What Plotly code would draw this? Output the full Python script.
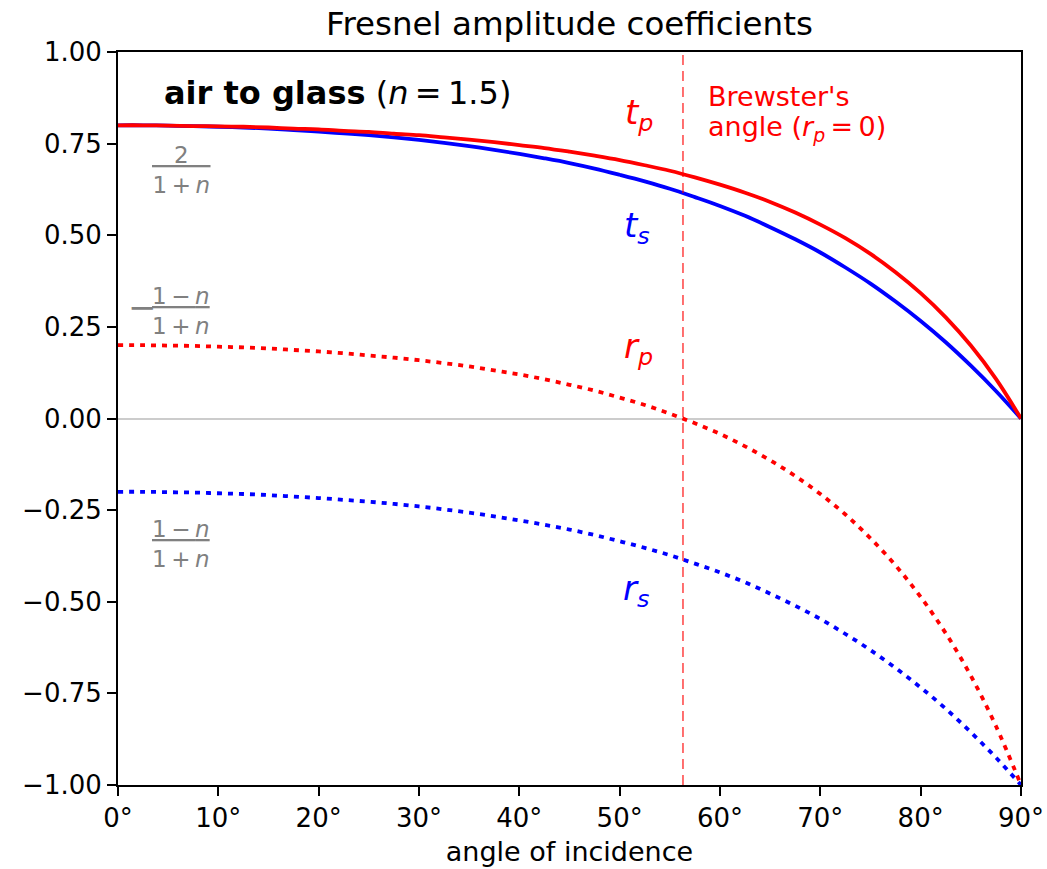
import plotly.graph_objects as go

# Data (every 2.5 degrees)
angles = [0, 2.5, 5, 7.5, 10, 12.5, 15, 17.5, 20, 22.5, 25, 27.5, 30, 32.5, 35, 37.5, 40, 42.5, 45,
          47.5, 50, 52.5, 55, 57.5, 60, 62.5, 65, 67.5, 70, 72.5, 75, 77.5, 80, 82.5, 85, 87.5, 90]
t_p = [0.800, 0.800, 0.799, 0.798, 0.797, 0.796, 0.794, 0.791, 0.789, 0.785, 0.782, 0.777, 0.773, 0.767, 0.761, 0.754,
       0.746, 0.738, 0.728, 0.717, 0.705, 0.691, 0.676, 0.658, 0.638, 0.616, 0.591, 0.562,
       0.529, 0.492, 0.449, 0.399, 0.342, 0.276, 0.199, 0.108, 0.0]
t_s = [0.800, 0.800, 0.799, 0.798, 0.796, 0.794, 0.791, 0.787, 0.783, 0.778, 0.773, 0.767, 0.760, 0.752, 0.743, 0.733,
       0.722, 0.710, 0.697, 0.682, 0.665, 0.647, 0.627, 0.604, 0.580, 0.553, 0.522, 0.489,
       0.453, 0.412, 0.368, 0.319, 0.266, 0.208, 0.144, 0.075, 0.0]
r_p = [0.200, 0.200, 0.199, 0.198, 0.196, 0.194, 0.191, 0.187, 0.183, 0.178, 0.172, 0.166, 0.159, 0.151, 0.142, 0.131,
       0.120, 0.107, 0.092, 0.076, 0.057, 0.037, 0.013, -0.013, -0.042, -0.076, -0.114, -0.157,
       -0.206, -0.262, -0.327, -0.401, -0.487, -0.586, -0.702, -0.839, -1.0]
r_s = [-0.200, -0.200, -0.201, -0.202, -0.204, -0.206, -0.209, -0.213, -0.217, -0.222, -0.227, -0.233, -0.240, -0.248, -0.257, -0.267,
       -0.278, -0.290, -0.303, -0.318, -0.335, -0.353, -0.373, -0.396, -0.420, -0.447, -0.478, -0.511,
       -0.547, -0.588, -0.632, -0.681, -0.734, -0.792, -0.856, -0.925, -1.0]
brewster_angle = 56.31
x_ticks = [0, 10, 20, 30, 40, 50, 60, 70, 80, 90]
y_ticks = [-1.0, -0.75, -0.5, -0.25, 0.0, 0.25, 0.5, 0.75, 1.0]

FONT = "DejaVu Sans"
RED = "#ff0000"
BLUE = "#0000ff"
GRAY = "#808080"

fig = go.Figure()
line_kw = dict(width=3.8, shape="spline", smoothing=1.0)
fig.add_trace(go.Scatter(x=angles, y=t_s, mode="lines", line=dict(color=BLUE, **line_kw), hoverinfo="skip"))
fig.add_trace(go.Scatter(x=angles, y=t_p, mode="lines", line=dict(color=RED, **line_kw), hoverinfo="skip"))
fig.add_trace(go.Scatter(x=angles, y=r_s, mode="lines", line=dict(color=BLUE, dash="5px,6px", **line_kw), hoverinfo="skip"))
fig.add_trace(go.Scatter(x=angles, y=r_p, mode="lines", line=dict(color=RED, dash="5px,6px", **line_kw), hoverinfo="skip"))

fig.add_shape(type="line", xref="x", yref="paper", x0=brewster_angle, x1=brewster_angle, y0=0, y1=1,
              line=dict(color="rgba(255,0,0,0.7)", width=1.6, dash="10px,6px"), layer="above")

ann = []
def A(x, y, text, size, color="black", xanchor="center", yanchor="middle", align="center"):
    ann.append(dict(x=x, y=y, xref="x", yref="y", text=text, showarrow=False,
                    font=dict(family=FONT, size=size, color=color),
                    xanchor=xanchor, yanchor=yanchor, align=align))

A(4.4, 0.888, "<b>air to glass</b> (<i>n</i>\u2009=\u20091.5)", 32, xanchor="left")
A(51.9, 0.83, "<i>t</i><sub><i>p</i></sub>", 34, RED)
A(51.7, 0.52, "<i>t</i><sub><i>s</i></sub>", 34, BLUE)
A(51.9, 0.19, "<i>r</i><sub><i>p</i></sub>", 34, RED)
A(51.6, -0.47, "<i>r</i><sub><i>s</i></sub>", 34, BLUE)
A(58.6, 0.878, "Brewster's", 27, RED, xanchor="left")
A(58.6, 0.792, "angle (<i>r</i><sub><i>p</i></sub>\u2009=\u20090)", 27, RED, xanchor="left")

frac_2 = "<u>&nbsp;&nbsp;&nbsp;2&nbsp;&nbsp;&nbsp;</u><br>1\u2009+\u2009<i>n</i>"
frac_1mn = "<u>1\u2009−\u2009<i>n</i></u><br>1\u2009+\u2009<i>n</i>"
A(6.3, 0.678, frac_2, 23, GRAY)
A(6.3, 0.293, frac_1mn, 23, GRAY)
A(2.4, 0.305, "−", 34, GRAY)
A(6.3, -0.342, frac_1mn, 23, GRAY)

fig.update_layout(
    width=1047, height=869,
    margin=dict(l=118, r=26, t=52, b=84),
    plot_bgcolor="white", paper_bgcolor="white",
    showlegend=False,
    font=dict(family=FONT, size=26, color="black"),
    title=dict(text="Fresnel amplitude coefficients", x=0.5, xref="paper", xanchor="center",
               y=1 - 24 / 869, yref="container", yanchor="middle",
               font=dict(family=FONT, size=32.5, color="black")),
    annotations=ann,
)
fig.update_xaxes(range=[0, 90], tickvals=x_ticks, ticktext=[f"{v}°" for v in x_ticks],
                 automargin=False,
                 showgrid=False, zeroline=False, showline=True, mirror=True, linecolor="black", linewidth=2,
                 ticks="outside", ticklen=9, tickwidth=2, tickcolor="black",
                 tickfont=dict(family=FONT, size=26),
                 title=dict(text="angle of incidence", font=dict(family=FONT, size=27), standoff=10))
fig.update_yaxes(range=[-1, 1], tickvals=y_ticks, tickformat=".2f",
                 automargin=False,
                 showgrid=False, zeroline=True, zerolinecolor="#cccccc", zerolinewidth=2,
                 showline=True, mirror=True, linecolor="black", linewidth=2,
                 ticks="outside", ticklen=9, tickwidth=2, tickcolor="black",
                 tickfont=dict(family=FONT, size=26))

fig.write_html("out.html")
